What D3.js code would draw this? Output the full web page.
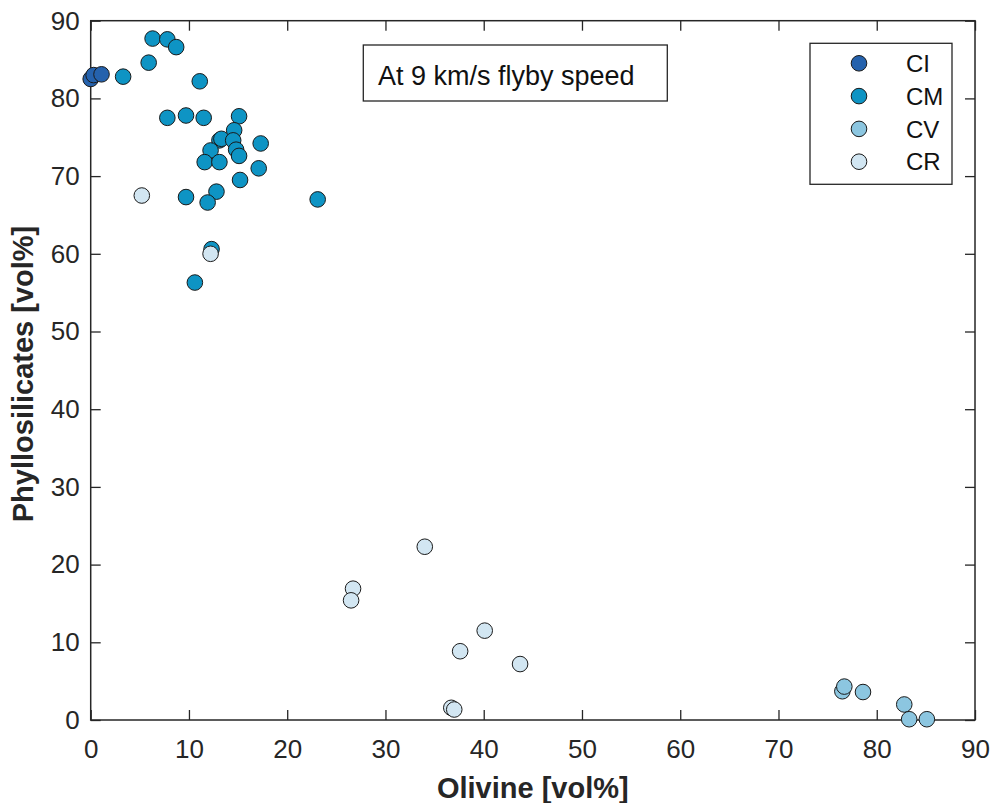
<!DOCTYPE html>
<html>
<head>
<meta charset="utf-8">
<script src="https://cdn.jsdelivr.net/npm/d3@7"></script>
<style>
  html, body { margin: 0; padding: 0; background: #fff; }
  svg { display: block; font-family: "Liberation Sans", Arial, Helvetica, sans-serif; }
</style>
</head>
<body>
<svg id="chart" width="990" height="803"></svg>
<script>
// ---- data ----
const groups = ["CI", "CM", "CV", "CR"];
const groupColors = ["#2562ad", "#0e94c4", "#8cc6e0", "#d2e6f2"];

const ciOlivine = [0, 0.3, 1.1];
const ciPhyllo  = [82.5, 83.0, 83.1];

const cmOlivine = [6.3, 7.8, 8.7, 5.9, 3.3, 11.1, 7.8, 9.7, 11.5, 15.1, 14.6, 17.3, 13.1, 13.3, 14.5, 14.8, 12.2, 15.1, 11.6, 13.1, 17.1, 15.2, 12.8, 9.7, 11.9, 23.1, 12.3, 10.6];
const cmPhyllo  = [87.7, 87.6, 86.6, 84.6, 82.8, 82.2, 77.5, 77.8, 77.5, 77.7, 75.9, 74.2, 74.6, 74.8, 74.6, 73.4, 73.3, 72.6, 71.8, 71.8, 71.0, 69.5, 68.0, 67.3, 66.6, 67.0, 60.6, 56.3];

const cvOlivine = [76.5, 76.7, 78.6, 82.8, 83.3, 85.1];
const cvPhyllo  = [3.7, 4.3, 3.6, 2.0, 0.1, 0.1];

const crOlivine = [5.2, 12.2, 34.0, 26.7, 26.5, 40.1, 37.6, 43.7, 36.7, 37.0];
const crPhyllo  = [67.5, 60.0, 22.3, 16.9, 15.4, 11.5, 8.85, 7.2, 1.57, 1.35];

const xTicks = [0, 10, 20, 30, 40, 50, 60, 70, 80, 90];
const yTicks = [0, 10, 20, 30, 40, 50, 60, 70, 80, 90];
const xTitle = "Olivine [vol%]";
const yTitle = "Phyllosilicates [vol%]";
const annotation = "At 9 km/s flyby speed";

const seriesX = [ciOlivine, cmOlivine, cvOlivine, crOlivine];
const seriesY = [ciPhyllo, cmPhyllo, cvPhyllo, crPhyllo];

// ---- layout ----
const L = 90.7, R = 975, T = 20.7, B = 720;
const axisColor = "#262626";
const svg = d3.select("#chart");

const x = d3.scaleLinear().domain([0, 90]).range([L, R]);
const y = d3.scaleLinear().domain([0, 90]).range([B, T]);

function styleAxis(g) {
  g.select(".domain").remove();
  g.selectAll(".tick line").attr("stroke", axisColor).attr("stroke-width", 1.3);
  g.selectAll(".tick text").attr("fill", "#262626").style("font-size", "26px")
    .style("font-family", '"Liberation Sans", Arial, sans-serif');
}

svg.append("g").attr("transform", `translate(0,${B})`)
  .call(d3.axisBottom(x).tickValues(xTicks).tickSize(-10).tickPadding(20).tickFormat(d3.format("d")))
  .call(styleAxis);
svg.append("g").attr("transform", `translate(${L},0)`)
  .call(d3.axisLeft(y).tickValues(yTicks).tickSize(-10).tickPadding(11).tickFormat(d3.format("d")))
  .call(styleAxis);
svg.append("g").attr("transform", `translate(0,${T})`)
  .call(d3.axisTop(x).tickValues(xTicks).tickSize(-10).tickFormat(""))
  .call(styleAxis);
svg.append("g").attr("transform", `translate(${R},0)`)
  .call(d3.axisRight(y).tickValues(yTicks).tickSize(-10).tickFormat(""))
  .call(styleAxis);

// frame
svg.append("rect").attr("x", L).attr("y", T).attr("width", R - L).attr("height", B - T)
  .attr("fill", "none").attr("stroke", axisColor).attr("stroke-width", 1.5);

// points
const r = 7.8;
groups.forEach((gname, i) => {
  const pts = seriesX[i].map((v, j) => [v, seriesY[i][j]]);
  svg.append("g").attr("class", "series-" + gname)
    .selectAll("circle").data(pts).join("circle")
    .attr("cx", d => x(d[0])).attr("cy", d => y(d[1])).attr("r", r)
    .attr("fill", groupColors[i]).attr("stroke", "#1a1a1a").attr("stroke-width", 1);
});

// axis titles
svg.append("text").attr("x", (L + R) / 2).attr("y", 798).attr("text-anchor", "middle")
  .style("font-size", "29px").style("font-weight", "bold").attr("fill", "#262626").text(xTitle);
svg.append("text").attr("transform", `translate(33,374) rotate(-90)`).attr("text-anchor", "middle")
  .style("font-size", "29px").style("font-weight", "bold").attr("fill", "#262626").text(yTitle);

// annotation box
svg.append("rect").attr("x", 363.3).attr("y", 45).attr("width", 304).attr("height", 56)
  .attr("fill", "#fff").attr("stroke", axisColor).attr("stroke-width", 1.3);
svg.append("text").attr("x", 378).attr("y", 85).style("font-size", "27px").attr("fill", "#111")
  .text(annotation);

// legend
const lg = svg.append("g");
lg.append("rect").attr("x", 810).attr("y", 43.3).attr("width", 142).attr("height", 141)
  .attr("fill", "#fff").attr("stroke", axisColor).attr("stroke-width", 1.3);
groups.forEach((gname, i) => {
  const cy = 63.3 + i * 32.8;
  lg.append("circle").attr("cx", 859).attr("cy", cy).attr("r", r)
    .attr("fill", groupColors[i]).attr("stroke", "#1a1a1a").attr("stroke-width", 1);
  lg.append("text").attr("x", 906).attr("y", cy).attr("dy", "0.36em")
    .style("font-size", "24px").attr("fill", "#111").text(gname);
});
</script>
</body>
</html>
